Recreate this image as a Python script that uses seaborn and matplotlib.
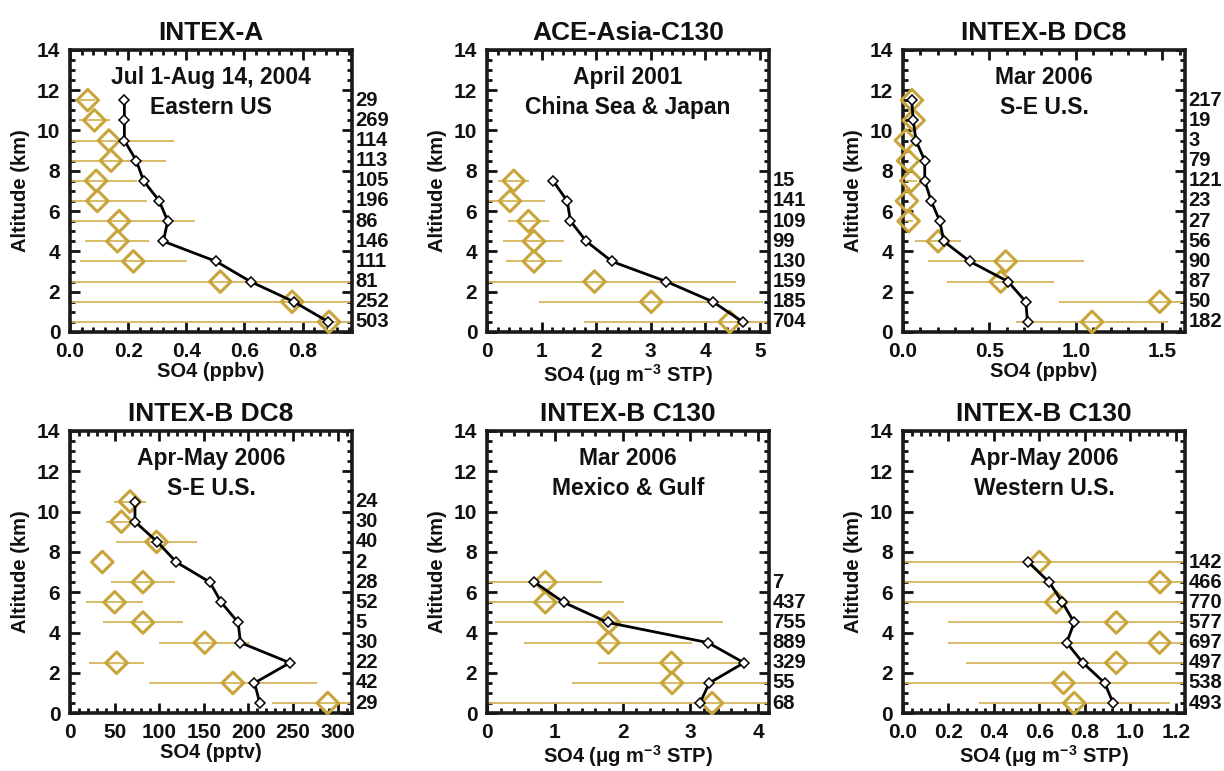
import numpy as np
import pandas as pd
import seaborn as sns
import matplotlib.pyplot as plt
from matplotlib.ticker import MultipleLocator, AutoMinorLocator

sns.set_theme(style="ticks")
plt.rcParams['font.family'] = ['Liberation Sans', 'DejaVu Sans']
plt.rcParams['font.weight'] = 'bold'
plt.rcParams['mathtext.fontset'] = 'custom'
plt.rcParams['mathtext.rm'] = 'Liberation Sans:bold'
plt.rcParams['mathtext.it'] = 'Liberation Sans:bold'
plt.rcParams['mathtext.bf'] = 'Liberation Sans:bold'
plt.rcParams['mathtext.default'] = 'bf'
for k in ['text.color', 'axes.labelcolor', 'xtick.color', 'ytick.color']:
    plt.rcParams[k] = '#111111'

GOLD = '#C9A43A'
GOLD_BAR = '#D6B65E'

# --- data (altitude bins, km) ---
alt_intexa = [11.5, 10.5, 9.5, 8.5, 7.5, 6.5, 5.5, 4.5, 3.5, 2.5, 1.5, 0.5]
mod_intexa = [0.187, 0.187, 0.187, 0.228, 0.253, 0.307, 0.336, 0.321, 0.503, 0.621, 0.770, 0.889]
obs_intexa = [0.061, 0.084, 0.134, 0.141, 0.090, 0.094, 0.169, 0.163, 0.218, 0.517, 0.764, 0.891]
std_intexa = [0.025, 0.053, 0.222, 0.189, 0.140, 0.170, 0.262, 0.110, 0.184, 0.600, 0.800, 0.950]
n_intexa = [29, 269, 114, 113, 105, 196, 86, 146, 111, 81, 252, 503]

alt_ace = [7.5, 6.5, 5.5, 4.5, 3.5, 2.5, 1.5, 0.5]
mod_ace = [1.21, 1.47, 1.53, 1.82, 2.29, 3.29, 4.14, 4.69]
obs_ace = [0.49, 0.42, 0.76, 0.86, 0.86, 1.97, 3.01, 4.45]
std_ace = [0.28, 0.65, 0.37, 0.56, 0.52, 2.60, 2.05, 2.67]
n_ace = [15, 141, 109, 99, 130, 159, 185, 704]

alt_dc8_mar = [11.5, 10.5, 9.5, 8.5, 7.5, 6.5, 5.5, 4.5, 3.5, 2.5, 1.5, 0.5]
mod_dc8_mar = [0.050, 0.060, 0.075, 0.126, 0.126, 0.163, 0.213, 0.236, 0.387, 0.608, 0.710, 0.720]
obs_dc8_mar = [0.052, 0.062, 0.017, 0.030, 0.048, 0.023, 0.033, 0.203, 0.594, 0.565, 1.484, 1.093]
std_dc8_mar = [0.010, 0.015, 0.0, 0.0, 0.035, 0.0, 0.025, 0.134, 0.450, 0.310, 0.580, 0.437]
n_dc8_mar = [217, 19, 3, 79, 121, 23, 27, 56, 90, 87, 50, 182]

alt_dc8_apr = [10.5, 9.5, 8.5, 7.5, 6.5, 5.5, 4.5, 3.5, 2.5, 1.5, 0.5]
mod_dc8_apr = [72.8, 72.8, 97.8, 119.0, 156.7, 169.4, 188.4, 191.0, 246.3, 206.7, 212.7]
obs_dc8_apr = [67.2, 57.5, 97.0, 36.2, 81.7, 50.0, 81.7, 151.0, 52.2, 182.5, 288.8]
std_dc8_apr = [18.0, 17.7, 45.0, 0.0, 36.0, 32.0, 45.0, 51.0, 31.0, 94.0, 62.0]
n_dc8_apr = [24, 30, 40, 2, 28, 52, 5, 30, 22, 42, 29]

alt_c130_mar = [6.5, 5.5, 4.5, 3.5, 2.5, 1.5, 0.5]
mod_c130_mar = [0.70, 1.13, 1.78, 3.26, 3.79, 3.28, 3.14]
obs_c130_mar = [0.86, 0.86, 1.80, 1.79, 2.72, 2.73, 3.32]
std_c130_mar = [0.84, 1.16, 1.68, 1.24, 1.08, 1.47, 3.50]
n_c130_mar = [7, 437, 755, 889, 329, 55, 68]

alt_c130_apr = [7.5, 6.5, 5.5, 4.5, 3.5, 2.5, 1.5, 0.5]
mod_c130_apr = [0.551, 0.643, 0.701, 0.753, 0.720, 0.791, 0.887, 0.924]
obs_c130_apr = [0.600, 1.130, 0.674, 0.938, 1.128, 0.938, 0.706, 0.753]
std_c130_apr = [0.700, 1.200, 0.750, 0.740, 0.930, 0.660, 0.750, 0.420]
n_c130_apr = [142, 466, 770, 577, 697, 497, 538, 493]

UG = r'SO4 ($\mu$g m$^{-3}$ STP)'

panels = [
    dict(title='INTEX-A', text='Jul 1-Aug 14, 2004\nEastern US', xlabel='SO4 (ppbv)',
         xlim=0.97, xmajor=0.2, fmt='{:.1f}', alt=alt_intexa, mod=mod_intexa,
         obs=obs_intexa, std=std_intexa, n=n_intexa),
    dict(title='ACE-Asia-C130', text='April 2001\nChina Sea & Japan', xlabel=UG,
         xlim=5.17, xmajor=1, fmt='{:.0f}', alt=alt_ace, mod=mod_ace,
         obs=obs_ace, std=std_ace, n=n_ace),
    dict(title='INTEX-B DC8', text='Mar 2006\nS-E U.S.', xlabel='SO4 (ppbv)',
         xlim=1.63, xmajor=0.5, fmt='{:.1f}', alt=alt_dc8_mar, mod=mod_dc8_mar,
         obs=obs_dc8_mar, std=std_dc8_mar, n=n_dc8_mar),
    dict(title='INTEX-B DC8', text='Apr-May 2006\nS-E U.S.', xlabel='SO4 (pptv)',
         xlim=316, xmajor=50, fmt='{:.0f}', alt=alt_dc8_apr, mod=mod_dc8_apr,
         obs=obs_dc8_apr, std=std_dc8_apr, n=n_dc8_apr),
    dict(title='INTEX-B C130', text='Mar 2006\nMexico & Gulf', xlabel=UG,
         xlim=4.16, xmajor=1, fmt='{:.0f}', alt=alt_c130_mar, mod=mod_c130_mar,
         obs=obs_c130_mar, std=std_c130_mar, n=n_c130_mar),
    dict(title='INTEX-B C130', text='Apr-May 2006\nWestern U.S.', xlabel=UG,
         xlim=1.24, xmajor=0.2, fmt='{:.1f}', alt=alt_c130_apr, mod=mod_c130_apr,
         obs=obs_c130_apr, std=std_c130_apr, n=n_c130_apr),
]

fig = plt.figure(figsize=(12.24, 7.71), dpi=100)
lefts = [0.0572, 0.3979, 0.7377]
bottoms = [0.5694, 0.0750]
w, h = 0.2304, 0.366

for i, p in enumerate(panels):
    ax = fig.add_axes([lefts[i % 3], bottoms[i // 3], w, h])
    df = pd.DataFrame({'alt': p['alt'], 'mod': p['mod'], 'obs': p['obs'],
                       'std': p['std']})

    # observations with +/- std bars
    ax.errorbar(df['obs'], df['alt'], xerr=df['std'], fmt='none',
                ecolor=GOLD_BAR, elinewidth=1.3, capsize=0, zorder=2)
    sns.scatterplot(data=df, x='obs', y='alt', ax=ax, marker='D', s=120,
                    facecolor='none', edgecolor=GOLD, linewidth=2.2, zorder=3,
                    clip_on=False)
    # model profile
    sns.lineplot(data=df, x='mod', y='alt', ax=ax, sort=False, estimator=None,
                 color='black', lw=2, marker='D', markersize=5.5,
                 markerfacecolor='white', markeredgecolor='black',
                 markeredgewidth=1.1, zorder=4)

    ticks = np.arange(0, p['xlim'] + 1e-9, p['xmajor'])
    ax.set_xticks(ticks)
    ax.set_xticklabels([p['fmt'].format(t) for t in ticks])
    ax.xaxis.set_minor_locator(AutoMinorLocator(5))
    ax.yaxis.set_major_locator(MultipleLocator(2))
    ax.yaxis.set_minor_locator(AutoMinorLocator(4))
    ax.set_xlim(0, p['xlim'])
    ax.set_ylim(0, 14)
    ax.tick_params(which='both', direction='in', top=True, right=True,
                   labelsize=15, width=2, pad=7)
    ax.tick_params(which='major', length=7)
    ax.tick_params(which='minor', length=3.5)
    for sp in ax.spines.values():
        sp.set_linewidth(2.6)
        sp.set_color('#1a1a1a')
    for lab in ax.get_xticklabels() + ax.get_yticklabels():
        lab.set_fontweight('bold')

    ax.set_title(p['title'], fontsize=19, fontweight='bold', pad=7)
    ax.set_xlabel(p['xlabel'], fontsize=14.5, fontweight='bold', labelpad=1)
    ax.set_ylabel('Altitude (km)', fontsize=14.5, fontweight='bold', labelpad=5)

    line1, line2 = p['text'].split('\n')
    ax.text(0.5, 12.65, line1, transform=ax.get_yaxis_transform(), ha='center',
            va='center', fontsize=16.5, fontweight='bold')
    ax.text(0.5, 11.15, line2, transform=ax.get_yaxis_transform(), ha='center',
            va='center', fontsize=16.5, fontweight='bold')

    for a, n in zip(p['alt'], p['n']):
        ax.text(1.012, a, str(n), transform=ax.get_yaxis_transform(),
                ha='left', va='center', fontsize=14.5, fontweight='bold')

fig.savefig('out.png', dpi=100)
